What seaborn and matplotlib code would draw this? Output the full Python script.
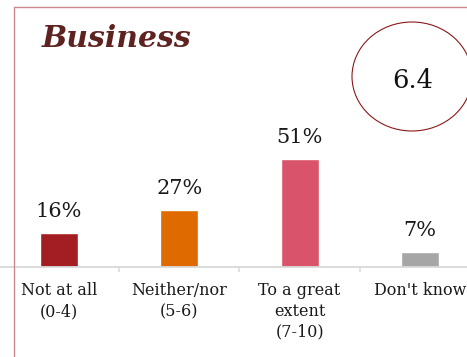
import matplotlib
matplotlib.use("Agg")
import matplotlib.pyplot as plt
import seaborn as sns
import pandas as pd
from matplotlib.patches import Ellipse
from matplotlib.lines import Line2D

categories = ["Not at all\n(0-4)", "Neither/nor\n(5-6)", "To a great\nextent\n(7-10)", "Don't know"]
values = [16, 27, 51, 7]
value_labels = ["16%", "27%", "51%", "7%"]
bar_colors = ["#A31E22", "#DE6A00", "#D9536B", "#A6A6A6"]
title = "Business"
score = "6.4"

sns.set_theme(style="white")
plt.rcParams["font.family"] = ["DejaVu Serif"]

W, H = 467, 357
fig = plt.figure(figsize=(W / 100, H / 100), dpi=100)
fig.patch.set_facecolor("white")

# plot area: category spacing ~120 px, baseline at y=267 px, 2.12 px per percent
x_left_px = -1.2
span_px = 481.3
base_px = 267
top_px = 60
ax = fig.add_axes([x_left_px / W, (H - base_px) / H, span_px / W, (base_px - top_px) / H])
ax.set_facecolor("none")

df = pd.DataFrame({"cat": categories, "val": values})
sns.barplot(data=df, x="cat", y="val", hue="cat", palette=bar_colors,
            legend=False, width=0.315, ax=ax, saturation=1)

ax.set_xlim(-0.5, 3.5)
ax.set_ylim(0, (base_px - top_px) / 2.12)
ax.set_xlabel("")
ax.set_ylabel("")
ax.set_yticks([])
for s in ["top", "left", "right"]:
    ax.spines[s].set_visible(False)
ax.spines["bottom"].set_color("#D9D9D9")
ax.spines["bottom"].set_linewidth(1.3)

ax.set_xticks(range(len(categories)))
ax.set_xticklabels(categories, fontsize=11.5, color="#1a1a1a", linespacing=1.28)
ax.tick_params(axis="x", which="major", bottom=True, length=0, pad=11)
ax.set_xticks([0.5, 1.5, 2.5], minor=True)
ax.tick_params(axis="x", which="minor", bottom=True, length=3.6, width=1.1,
               color="#D9D9D9", direction="out")

for i, (v, lab) in enumerate(zip(values, value_labels)):
    ax.annotate(lab, (i, v), xytext=(0, 11.5), textcoords="offset points",
                ha="center", va="baseline", fontsize=15, color="#1a1a1a")

# frame lines of the chart box
frame_color = "#C98A8E"
fig.add_artist(Line2D([14 / W, 14 / W], [0, 1 - 7 / H], transform=fig.transFigure,
                      color=frame_color, lw=1.0))
fig.add_artist(Line2D([14 / W, 1], [1 - 7 / H, 1 - 7 / H], transform=fig.transFigure,
                      color=frame_color, lw=1.0))

fig.text(42 / W, 1 - 47 / H, title, fontsize=21.5, fontweight="bold", fontstyle="italic",
         color="#5E2220", ha="left", va="baseline")

fig.add_artist(Ellipse((412 / W, 1 - 76.5 / H), 120 / W, 109 / H, transform=fig.transFigure,
                       fill=False, edgecolor="#8B1A1A", lw=0.8))
fig.text(413 / W, 1 - 88 / H, score, fontsize=18.5, color="#111111", ha="center", va="baseline")

fig.savefig("out.png", dpi=100)
